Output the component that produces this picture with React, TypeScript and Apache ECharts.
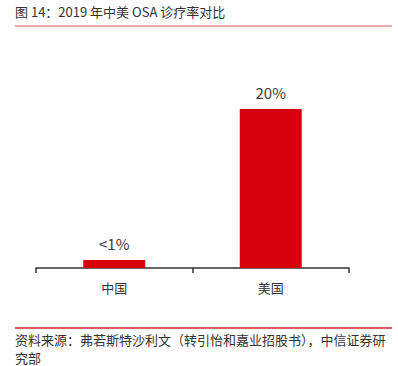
import React, { useEffect, useRef } from "react";
import * as echarts from "echarts";

const categories = ["中国", "美国"];
const values = [1, 20];
const valueLabels = ["<1%", "20%"];
const titleText = "图 14：2019 年中美 OSA 诊疗率对比";
const sourceLine1 = "资料来源：弗若斯特沙利文（转引怡和嘉业招股书），中信证券研";
const sourceLine2 = "究部";

const FONT = "'Noto Sans CJK SC', 'Noto Sans', sans-serif";

export default function App() {
  const ref = useRef<HTMLDivElement>(null);
  useEffect(() => {
    const chart = echarts.init(ref.current!, null, { renderer: "svg" });
    chart.setOption({
      animation: false,
      grid: { left: 36, right: 49, top: 109, bottom: 98, containLabel: false },
      xAxis: {
        type: "category",
        data: categories,
        axisLine: { show: true, lineStyle: { color: "#333", width: 1.5 } },
        axisTick: { show: true, length: 5, lineStyle: { color: "#333", width: 1.5 } },
        axisLabel: { color: "#333", fontSize: 13, fontFamily: FONT, margin: 13 },
      },
      yAxis: {
        type: "value",
        min: 0,
        max: 20,
        show: false,
        splitLine: { show: false },
      },
      series: [
        {
          type: "bar",
          data: values,
          barWidth: 62,
          itemStyle: { color: "#d7000f" },
          label: {
            show: true,
            position: "top",
            distance: 9,
            color: "#404040",
            fontSize: 15,
            fontFamily: FONT,
            formatter: (p: any) => valueLabels[p.dataIndex],
          },
        },
      ],
      graphic: [
        {
          type: "text",
          left: 15,
          top: 5,
          style: { text: titleText, fill: "#333", fontSize: 13, fontFamily: FONT },
        },
        {
          type: "line",
          shape: { x1: 15, y1: 26, x2: 392, y2: 26 },
          style: { stroke: "#e89090", lineWidth: 1.5 },
        },
        {
          type: "line",
          shape: { x1: 15, y1: 328, x2: 392, y2: 328 },
          style: { stroke: "#d42a2a", lineWidth: 1.5 },
        },
        {
          type: "text",
          left: 15,
          top: 333,
          style: { text: sourceLine1, fill: "#333", fontSize: 13, fontFamily: FONT },
        },
        {
          type: "text",
          left: 15,
          top: 351,
          style: { text: sourceLine2, fill: "#333", fontSize: 13, fontFamily: FONT },
        },
      ],
    });
    return () => chart.dispose();
  }, []);
  return <div ref={ref} style={{ width: 398, height: 366, position: "absolute", left: 0, top: 0 }} />;
}
